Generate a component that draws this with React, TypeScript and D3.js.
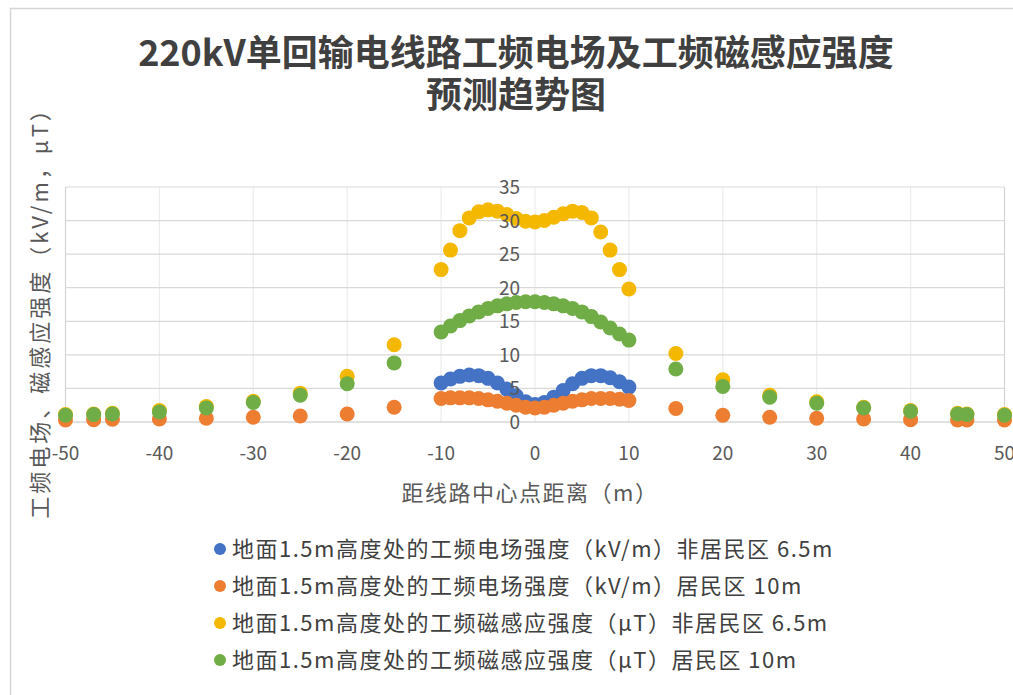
import React from "react";
import * as d3 from "d3";

// Lateral distance from the line centre (m)
const distances: number[] = [
  -50, -47, -45, -40, -35, -30, -25, -20, -15,
  -10, -9, -8, -7, -6, -5, -4, -3, -2, -1, 0, 1, 2, 3, 4, 5, 6, 7, 8, 9, 10,
  15, 20, 25, 30, 35, 40, 45, 46, 50,
];

// Power-frequency electric field (kV/m), non-residential area, 6.5 m
const eFieldNonResidential: (number | null)[] = [
  null, null, null, null, null, null, null, null, null,
  5.8, 6.4, 6.8, 7.0, 6.9, 6.5, 5.8, 4.9, 3.9, 3.0, 2.6, 2.9, 3.7, 4.7, 5.7, 6.5, 6.9, 6.9, 6.6, 6.0, 5.2,
  null, null, null, null, null, null, null, null, null,
];

// Power-frequency electric field (kV/m), residential area, 10 m
const eFieldResidential: (number | null)[] = [
  0.3, 0.35, 0.4, 0.45, 0.55, 0.7, 0.9, 1.2, 2.2,
  3.5, 3.6, 3.6, 3.6, 3.5, 3.3, 3.1, 2.8, 2.5, 2.2, 2.1, 2.2, 2.5, 2.8, 3.1, 3.3, 3.5, 3.5, 3.5, 3.4, 3.2,
  2.0, 1.0, 0.7, 0.55, 0.45, 0.35, 0.3, 0.3, 0.3,
];

// Power-frequency magnetic induction (μT), non-residential area, 6.5 m
const bFieldNonResidential: (number | null)[] = [
  1.1, 1.2, 1.3, 1.7, 2.3, 3.1, 4.3, 6.8, 11.5,
  22.7, 25.6, 28.5, 30.4, 31.3, 31.6, 31.4, 30.9, 30.3, 29.9, 29.8, 30.0, 30.5, 31.0, 31.4, 31.2, 30.4, 28.3, 25.6, 22.7, 19.8,
  10.2, 6.3, 4.0, 3.0, 2.2, 1.7, 1.3, 1.2, 1.1,
];

// Power-frequency magnetic induction (μT), residential area, 10 m
const bFieldResidential: (number | null)[] = [
  1.0, 1.1, 1.2, 1.5, 2.1, 2.9, 4.0, 5.7, 8.8,
  13.4, 14.3, 15.1, 15.8, 16.4, 16.9, 17.3, 17.6, 17.8, 17.9, 17.9, 17.8, 17.6, 17.3, 16.9, 16.4, 15.7, 14.9, 14.0, 13.1, 12.2,
  7.9, 5.3, 3.7, 2.8, 2.1, 1.6, 1.2, 1.1, 1.0,
];

const seriesNames: string[] = [
  "地面1.5m高度处的工频电场强度（kV/m）非居民区 6.5m",
  "地面1.5m高度处的工频电场强度（kV/m）居民区 10m",
  "地面1.5m高度处的工频磁感应强度（μT）非居民区 6.5m",
  "地面1.5m高度处的工频磁感应强度（μT）居民区 10m",
];
const seriesColors: string[] = ["#4472C4", "#ED7D31", "#F5B800", "#70AD47"];
const seriesValues = [eFieldNonResidential, eFieldResidential, bFieldNonResidential, bFieldResidential];

const xTicks: number[] = [-50, -40, -30, -20, -10, 0, 10, 20, 30, 40, 50];
const yTicks: number[] = [0, 5, 10, 15, 20, 25, 30, 35];

const titleLines: string[] = ["220kV单回输电线路工频电场及工频磁感应强度", "预测趋势图"];
const xTitle = "距线路中心点距离（m）";
const yTitle = "工频电场、磁感应强度（kV/m，μT）";

const W = 1013;
const H = 695;
const FONT = "'Noto Sans CJK SC', 'Noto Sans', sans-serif";

export default function App() {
  const x = d3.scaleLinear().domain([-50, 50]).range([65.5, 1004.5]);
  const y = d3.scaleLinear().domain([0, 35]).range([422, 187]);

  return (
    <svg
      width={W}
      height={H}
      style={{ position: "absolute", left: 0, top: 0, background: "#fff" }}
      fontFamily={FONT}
    >
      <rect x={0} y={0} width={W} height={H} fill="#fff" />
      <rect x={10.5} y={8.5} width={W + 20} height={H + 20} fill="#fff" stroke="#d6d6d6" strokeWidth={1.5} />

      {/* title */}
      {titleLines.map((t, i) => (
        <text
          key={t}
          x={516}
          y={66 + i * 42}
          textAnchor="middle"
          fontSize={36}
          fontWeight={700}
          fill="#404040"
        >
          {t}
        </text>
      ))}

      {/* vertical gridlines */}
      {xTicks.map((t) => (
        <line
          key={"vx" + t}
          x1={x(t)}
          x2={x(t)}
          y1={y(35)}
          y2={y(0)}
          stroke={Math.abs(t) === 50 ? "#d4d4d4" : "#ececec"}
          strokeWidth={1.2}
        />
      ))}
      {/* horizontal gridlines */}
      {yTicks.map((t) => (
        <line
          key={"hy" + t}
          x1={x(-50)}
          x2={x(50)}
          y1={y(t)}
          y2={y(t)}
          stroke={t === 0 ? "#c4c4c4" : "#d9d9d9"}
          strokeWidth={1.2}
        />
      ))}

      {/* points */}
      {seriesValues.map((vals, si) => (
        <g key={"s" + si} fill={seriesColors[si]}>
          {distances.map((d, i) =>
            vals[i] == null ? null : (
              <circle key={i} cx={x(d)} cy={y(vals[i] as number)} r={7.5} />
            )
          )}
        </g>
      ))}

      {/* y tick labels */}
      {yTicks.map((t) => (
        <text key={"yl" + t} x={x(0) - 15} y={y(t) + 7} textAnchor="end" fontSize={19} fill="#595959">
          {t}
        </text>
      ))}
      {/* x tick labels */}
      {xTicks.map((t) => (
        <text key={"xl" + t} x={x(t)} y={460} textAnchor="middle" fontSize={19} fill="#595959">
          {t}
        </text>
      ))}

      {/* axis titles */}
      <text x={530} y={501} textAnchor="middle" fontSize={22} letterSpacing={1.5} fill="#595959">
        {xTitle}
      </text>
      <text
        transform={`translate(48, ${(y(0) + y(35)) / 2 + 3}) rotate(-90)`}
        textAnchor="middle"
        fontSize={22}
        letterSpacing={3}
        fill="#595959"
      >
        {yTitle}
      </text>

      {/* legend */}
      {seriesNames.map((name, i) => (
        <g key={name} transform={`translate(220, ${549 + i * 37})`}>
          <circle cx={0} cy={0} r={6} fill={seriesColors[i]} />
          <text x={12} y={8} fontSize={22} letterSpacing={1.5} fill="#404040">
            {name}
          </text>
        </g>
      ))}
    </svg>
  );
}
